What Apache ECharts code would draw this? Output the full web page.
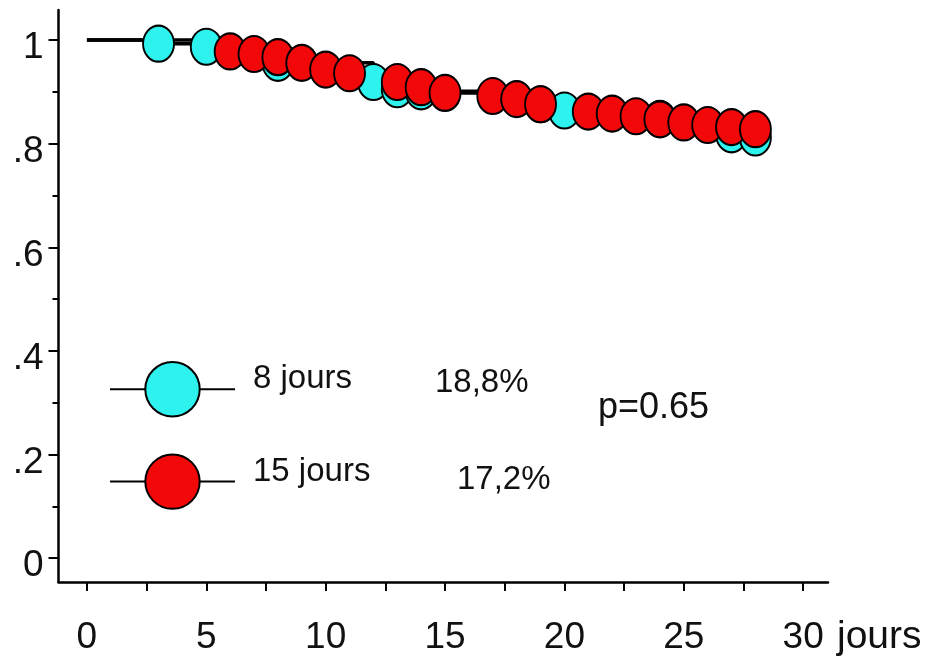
<!DOCTYPE html>
<html>
<head>
<meta charset="utf-8">
<title>Survie à 30 jours</title>
<script src="https://cdn.jsdelivr.net/npm/echarts@6/dist/echarts.min.js"></script>
<style>
  html, body { margin: 0; padding: 0; background: #fff; }
  #chart { width: 934px; height: 660px; }
</style>
</head>
<body>
<div id="chart"></div>
<script>
// Kaplan-Meier survival: two treatment durations (days, survival proportion)
const groupNames = ['8 jours', '15 jours'];

const days8 = [0, 3, 5, 8, 12, 13, 14, 19, 20, 24, 27, 28];
const surv8 = [1.0, 0.993, 0.987, 0.956, 0.919, 0.905, 0.901, 0.876, 0.864, 0.848, 0.818, 0.812];

const days15 = [0, 6, 7, 8, 9, 10, 11, 13, 14, 15, 17, 18, 19, 21, 22, 23, 24, 25, 26, 27, 28];
const surv15 = [1.0, 0.978, 0.973, 0.967, 0.956, 0.943, 0.936, 0.919, 0.909, 0.898, 0.892, 0.886, 0.876, 0.862, 0.858, 0.853, 0.847, 0.841, 0.836, 0.832, 0.828];

// mortality at day 28 and log-rank p value
const mortalityLabels = ['18,8%', '17,2%'];
const pValueLabel = 'p=0.65';

// axis ticks and labels
const xTickValues = [0, 2.5, 5, 7.5, 10, 12.5, 15, 17.5, 20, 22.5, 25, 27.5, 30];
const xLabelValues = [0, 5, 10, 15, 20, 25, 30];
const yLabelValues = [0, 0.2, 0.4, 0.6, 0.8, 1];
const yMinorTickValues = [0.1, 0.3, 0.5, 0.7, 0.9];
const xUnit = 'jours';

const colors = ['#2EF2EE', '#F20808'];
const FONT = '"Liberation Sans", Arial, sans-serif';

function toPoints(days, surv) {
  return days.map((d, i) => i === 0 ? { value: [d, surv[i]], symbol: 'none' } : [d, surv[i]]);
}

function yLabel(v) {
  let s;
  if (v === 0) s = '0';
  else if (v === 1) s = '1';
  else s = String(v).replace(/^0/, '');
  return '{v|' + s + '}';
}

const chart = echarts.init(document.getElementById('chart'), null, { renderer: 'canvas' });

const xRange = { min: -1.19, max: 31.04 };
const yRange = { min: -0.046, max: 1.058 };

chart.setOption({
  animation: false,
  backgroundColor: '#ffffff',
  textStyle: { fontFamily: FONT },
  grid: { left: 58.5, right: 106, top: 10, bottom: 78 },
  xAxis: {
    type: 'value',
    min: xRange.min,
    max: xRange.max,
    name: xUnit,
    nameLocation: 'end',
    nameGap: 9,
    nameTextStyle: {
      fontFamily: FONT, fontSize: 39, color: '#111',
      align: 'left', verticalAlign: 'top', padding: [36, 0, 0, 0]
    },
    axisLine: { show: true, onZero: false, lineStyle: { color: '#000', width: 2.5 } },
    axisTick: { show: true, inside: false, length: 9, customValues: xTickValues, lineStyle: { color: '#000', width: 2 } },
    axisLabel: {
      show: true, customValues: xLabelValues, margin: 37,
      fontFamily: FONT, fontSize: 37, color: '#111'
    },
    splitLine: { show: false }
  },
  yAxis: [
    {
      type: 'value',
      min: yRange.min,
      max: yRange.max,
      axisLine: { show: true, onZero: false, lineStyle: { color: '#000', width: 2.5 } },
      axisTick: { show: true, inside: false, length: 10, customValues: yLabelValues, lineStyle: { color: '#000', width: 2 } },
      axisLabel: {
        show: true, customValues: yLabelValues, margin: 15,
        formatter: yLabel,
        rich: {
          v: { fontFamily: FONT, fontSize: 37, color: '#111', padding: [16, 0, 0, 0] }
        }
      },
      splitLine: { show: false }
    },
    {
      // minor ticks every 0.1
      type: 'value',
      position: 'left',
      min: yRange.min,
      max: yRange.max,
      axisLine: { show: false, onZero: false },
      axisTick: { show: true, inside: false, length: 6, customValues: yMinorTickValues, lineStyle: { color: '#000', width: 2 } },
      axisLabel: { show: false },
      splitLine: { show: false }
    }
  ],
  legend: {
    show: true,
    selectedMode: false,
    orient: 'vertical',
    left: 104,
    top: 356,
    itemWidth: 125,
    itemHeight: 68,
    itemGap: 36,
    data: groupNames,
    lineStyle: { color: '#000', width: 2 },
    itemStyle: { borderColor: '#000', borderWidth: 2 },
    formatter: '{t|{name}}',
    textStyle: {
      fontFamily: FONT, fontSize: 33, color: '#111',
      rich: {
        t: { fontFamily: FONT, fontSize: 33, color: '#111', padding: [0, 0, 20, 13] }
      }
    }
  },
  graphic: [
    {
      type: 'text', left: 435, top: 366,
      style: { text: mortalityLabels[0], font: '33px ' + FONT, fill: '#111' }
    },
    {
      type: 'text', left: 457, top: 463,
      style: { text: mortalityLabels[1], font: '33px ' + FONT, fill: '#111' }
    },
    {
      type: 'text', left: 598, top: 390,
      style: { text: pValueLabel, font: '36px ' + FONT, fill: '#111' }
    }
  ],
  series: [
    {
      name: groupNames[0],
      type: 'line',
      step: 'end',
      yAxisIndex: 0,
      data: toPoints(days8, surv8),
      symbol: 'circle',
      symbolSize: [31, 36],
      showSymbol: true,
      lineStyle: { color: '#000', width: 3.5 },
      itemStyle: { color: colors[0], borderColor: '#000', borderWidth: 2 },
      emphasis: { disabled: true }
    },
    {
      name: groupNames[1],
      type: 'line',
      step: 'end',
      yAxisIndex: 0,
      data: toPoints(days15, surv15),
      symbol: 'circle',
      symbolSize: [31, 36],
      showSymbol: true,
      lineStyle: { color: '#000', width: 3.5 },
      itemStyle: { color: colors[1], borderColor: '#000', borderWidth: 2 },
      emphasis: { disabled: true }
    }
  ]
});
</script>
</body>
</html>
